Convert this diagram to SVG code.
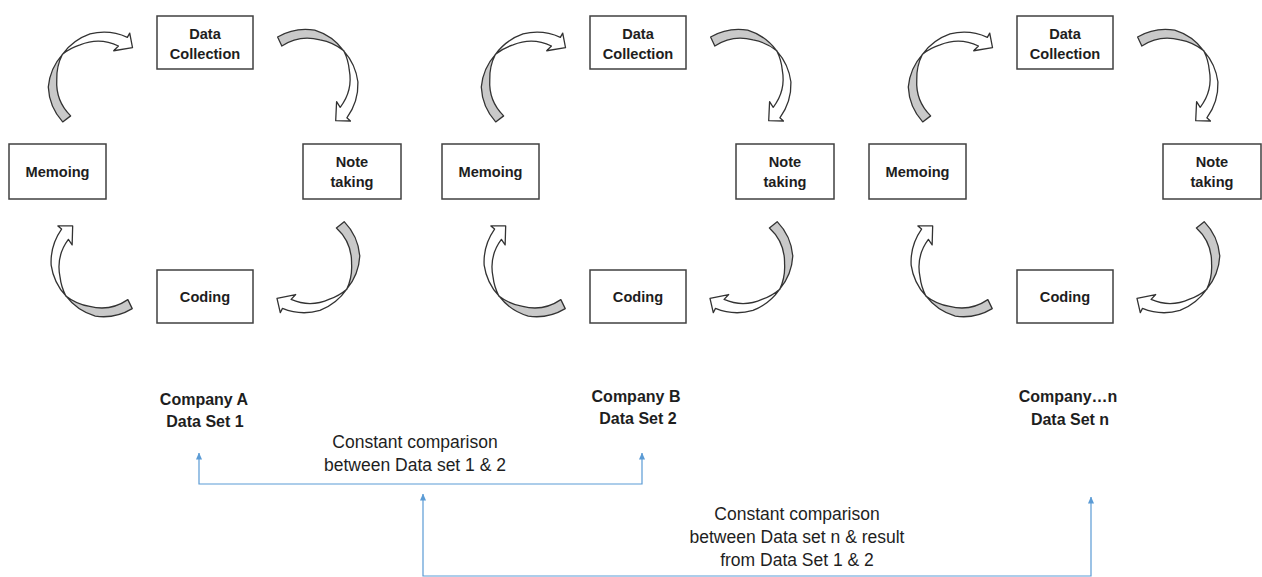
<svg xmlns="http://www.w3.org/2000/svg" xmlns:xlink="http://www.w3.org/1999/xlink" width="1262" height="577" viewBox="0 0 1262 577">
<style>
.box rect{fill:#fff;stroke:#404040;stroke-width:1.5}
text{font-family:"Liberation Sans",Arial,sans-serif;fill:#1e1e1e;text-anchor:middle}
.bl{font-weight:bold;font-size:14.6px}
.cap{font-weight:bold;font-size:16px}
.cmp{font-size:17.5px}
.back{fill:#c9c9c9;stroke:#333;stroke-width:1.3;stroke-linejoin:round}
.front{fill:#fff;stroke:#333;stroke-width:1.3;stroke-linejoin:round}
.link{fill:none;stroke:#5b9bd5;stroke-width:1.2}
</style>
<defs>
<g id="carrow">
<path class="back" d="M53 0 A56 56 0 0 1 43.51 36.51 A56.5 56.5 0 0 1 12.49 54.08 A52 52 0 0 0 32.35 37.21 A47 47 0 0 0 43 0 Z"/>
<path class="front" d="M12.49 54.08 A58 58 0 0 1 -21.73 53.78 A57.5 57.5 0 0 1 -49.54 28.6 L-53.96 30.53 L-47.45 17.27 L-30.57 26.11 L-37.21 27.04 A47 47 0 0 0 -7.17 51 A54 54 0 0 0 12.49 54.08 Z"/>
</g>
<marker id="ah" viewBox="0 0 8 8" refX="7.5" refY="4" markerWidth="7" markerHeight="7" markerUnits="userSpaceOnUse" orient="auto-start-reverse"><path d="M0 0.5 L8 4 L0 7.5 Z" fill="#5b9bd5"/></marker>
</defs>

<g id="connectors">
 <g id="cycle-a-arrows">
  <use xlink:href="#carrow" href="#carrow" transform="translate(105,90) rotate(143)"/>
  <use xlink:href="#carrow" href="#carrow" transform="translate(300,85) rotate(245)"/>
  <use xlink:href="#carrow" href="#carrow" transform="translate(303,255) rotate(321)"/>
  <use xlink:href="#carrow" href="#carrow" transform="translate(109,261) rotate(64)"/>
 </g>
 <g id="cycle-b-arrows">
  <use xlink:href="#carrow" href="#carrow" transform="translate(538,90) rotate(143)"/>
  <use xlink:href="#carrow" href="#carrow" transform="translate(733,85) rotate(245)"/>
  <use xlink:href="#carrow" href="#carrow" transform="translate(736,255) rotate(321)"/>
  <use xlink:href="#carrow" href="#carrow" transform="translate(542,261) rotate(64)"/>
 </g>
 <g id="cycle-n-arrows">
  <use xlink:href="#carrow" href="#carrow" transform="translate(965,90) rotate(143)"/>
  <use xlink:href="#carrow" href="#carrow" transform="translate(1160,85) rotate(245)"/>
  <use xlink:href="#carrow" href="#carrow" transform="translate(1163,255) rotate(321)"/>
  <use xlink:href="#carrow" href="#carrow" transform="translate(969,261) rotate(64)"/>
 </g>
 <path id="compare-1-2" class="link" d="M199 453 V484 H642 V453" marker-start="url(#ah)" marker-end="url(#ah)"/>
 <path id="compare-n" class="link" d="M423 494 V576 H1091 V497" marker-start="url(#ah)" marker-end="url(#ah)"/>
</g>

<g id="a-data-collection" class="box"><rect x="157" y="16" width="96" height="53"/><text class="bl" x="205" y="38.5">Data</text><text class="bl" x="205" y="58.5">Collection</text></g>
<g id="a-memoing" class="box"><rect x="9" y="144" width="97" height="55"/><text class="bl" x="57.5" y="176.5">Memoing</text></g>
<g id="a-note-taking" class="box"><rect x="303" y="144" width="98" height="55"/><text class="bl" x="352" y="166.5">Note</text><text class="bl" x="352" y="186.5">taking</text></g>
<g id="a-coding" class="box"><rect x="157" y="270" width="96" height="53"/><text class="bl" x="205" y="301.5">Coding</text></g>

<g id="b-data-collection" class="box"><rect x="590" y="16" width="96" height="53"/><text class="bl" x="638" y="38.5">Data</text><text class="bl" x="638" y="58.5">Collection</text></g>
<g id="b-memoing" class="box"><rect x="442" y="144" width="97" height="55"/><text class="bl" x="490.5" y="176.5">Memoing</text></g>
<g id="b-note-taking" class="box"><rect x="736" y="144" width="98" height="55"/><text class="bl" x="785" y="166.5">Note</text><text class="bl" x="785" y="186.5">taking</text></g>
<g id="b-coding" class="box"><rect x="590" y="270" width="96" height="53"/><text class="bl" x="638" y="301.5">Coding</text></g>

<g id="n-data-collection" class="box"><rect x="1017" y="16" width="96" height="53"/><text class="bl" x="1065" y="38.5">Data</text><text class="bl" x="1065" y="58.5">Collection</text></g>
<g id="n-memoing" class="box"><rect x="869" y="144" width="97" height="55"/><text class="bl" x="917.5" y="176.5">Memoing</text></g>
<g id="n-note-taking" class="box"><rect x="1163" y="144" width="98" height="55"/><text class="bl" x="1212" y="166.5">Note</text><text class="bl" x="1212" y="186.5">taking</text></g>
<g id="n-coding" class="box"><rect x="1017" y="270" width="96" height="53"/><text class="bl" x="1065" y="301.5">Coding</text></g>

<g id="company-a"><text class="cap" x="204" y="405">Company A</text><text class="cap" x="205" y="427">Data Set 1</text></g>
<g id="company-b"><text class="cap" x="636" y="402">Company B</text><text class="cap" x="638" y="424">Data Set 2</text></g>
<g id="company-n"><text class="cap" x="1068" y="402">Company…n</text><text class="cap" x="1070" y="425">Data Set n</text></g>

<g id="label-compare-1-2"><text class="cmp" x="415" y="448">Constant comparison</text><text class="cmp" x="415" y="471">between Data set 1 &amp; 2</text></g>
<g id="label-compare-n"><text class="cmp" x="797" y="520">Constant comparison</text><text class="cmp" x="797" y="543">between Data set n &amp; result</text><text class="cmp" x="797" y="566">from Data Set 1 &amp; 2</text></g>
</svg>
